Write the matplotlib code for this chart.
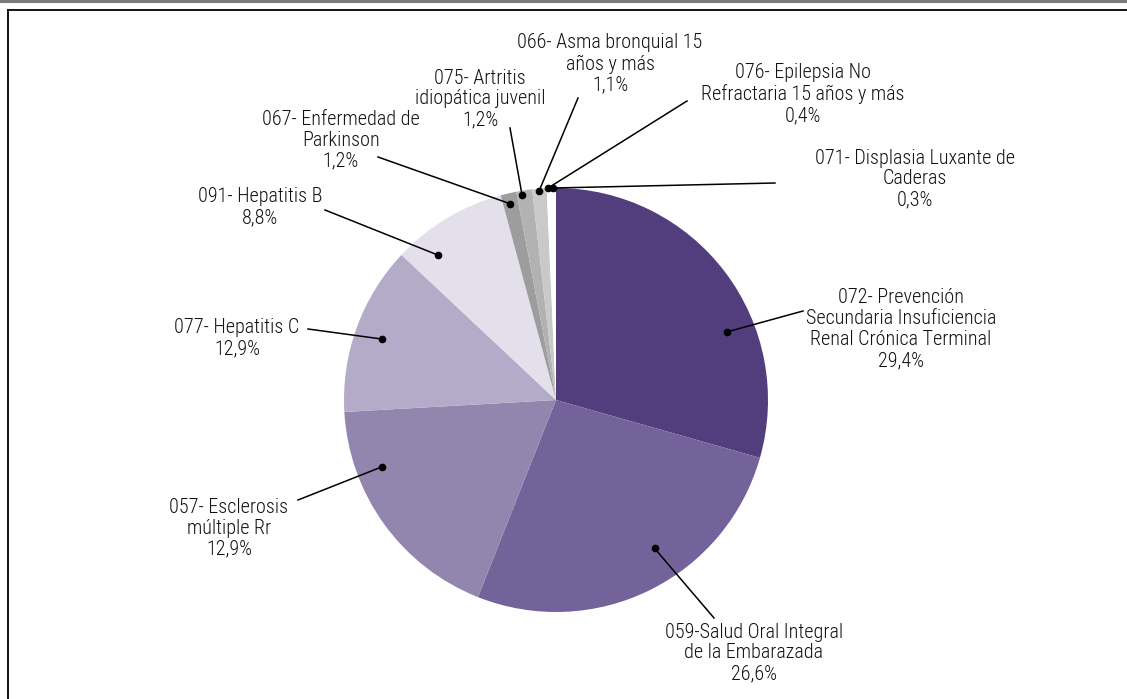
import numpy as np
import matplotlib
matplotlib.use("Agg")
import matplotlib.pyplot as plt
from matplotlib.lines import Line2D

# ---- data ----
codes = ["072", "059", "057", "077", "091", "067", "075", "066", "076", "071"]
labels = [
    "072- Prevención\nSecundaria Insuficiencia\nRenal Crónica Terminal\n29,4%",
    "059-Salud Oral Integral\nde la Embarazada\n26,6%",
    "057- Esclerosis\nmúltiple Rr\n12,9%",
    "077- Hepatitis C\n12,9%",
    "091- Hepatitis B\n8,8%",
    "067- Enfermedad de\nParkinson\n1,2%",
    "075- Artritis\nidiopática juvenil\n1,2%",
    "066- Asma bronquial 15\naños y más\n1,1%",
    "076- Epilepsia No\nRefractaria 15 años y más\n0,4%",
    "071- Displasia Luxante de\nCaderas\n0,3%",
]
# slice sizes as drawn (the 057 slice is drawn larger than its label)
values = [29.4, 26.6, 18.1, 12.9, 8.8, 1.2, 1.2, 1.1, 0.4, 0.3]
colors = ["#523e7c", "#74639a", "#9386ae", "#b3abc8", "#e3e0eb",
          "#9d9d9d", "#b2b2b2", "#c9c9c9", "#ffffff", "#ffffff"]

# ---- layout (pixel space) ----
W, H = 1127, 699
cx, cy, R = 556, H - 400, 212
# dot positions: (fraction of radius, clockwise angle from top in degrees)
dot_r = [0.87, 0.84, 0.88, 0.87, 0.88, 0.95, 0.98, 0.99, 1.0, 1.0]
dot_a = [68.3, 146.4, 249.0, 289.3, 320.9, 346.9, 350.6, 355.4, 357.8, 359.3]
# text centers and line end points (pixel, y from top)
text_xy = [(901, 329), (754, 653), (229, 528), (237, 338), (260, 207),
           (341, 140), (480, 99), (610, 64), (803, 94), (915, 179)]
line_end = [(803, 311), (714, 618), (298, 500), (308, 329), (325, 210),
            (378, 157), (510, 128), (578, 98), (687, 101), (775, 183)]

plt.rcParams["font.family"] = ["Roboto Condensed", "DejaVu Sans"]

fig = plt.figure(figsize=(W / 100, H / 100), dpi=100)
ax = fig.add_axes([0, 0, 1, 1])
ax.axis("off")

ax.pie(values, colors=colors, startangle=90, counterclock=False,
       center=(cx, cy), radius=R, wedgeprops=dict(linewidth=0))
ax.set_xlim(0, W)
ax.set_ylim(0, H)
ax.set_aspect("auto")

for i in range(len(values)):
    a = np.deg2rad(dot_a[i])
    dx = cx + dot_r[i] * R * np.sin(a)
    dy = cy + dot_r[i] * R * np.cos(a)
    ex, ey = line_end[i]
    ax.plot([dx, ex], [dy, H - ey], color="black", lw=1.1, zorder=5)
    ax.plot([dx], [dy], "o", color="black", ms=4.5, zorder=6)
    tx, ty = text_xy[i]
    ax.text(tx, H - ty, labels[i], ha="center", va="center", fontsize=14.5,
            fontweight="light", color="#111111", linespacing=1.13, zorder=7)

# frame lines
fig.add_artist(Line2D([0, 1], [1 - 1 / H, 1 - 1 / H], transform=fig.transFigure,
                      color="#7a7a7a", lw=2.2))
fig.add_artist(Line2D([8 / W, 1], [1 - 10 / H, 1 - 10 / H], transform=fig.transFigure,
                      color="black", lw=1.3))
fig.add_artist(Line2D([8 / W, 8 / W], [0, 1 - 10 / H], transform=fig.transFigure,
                      color="black", lw=1.3))

fig.savefig("out.png", dpi=100)
